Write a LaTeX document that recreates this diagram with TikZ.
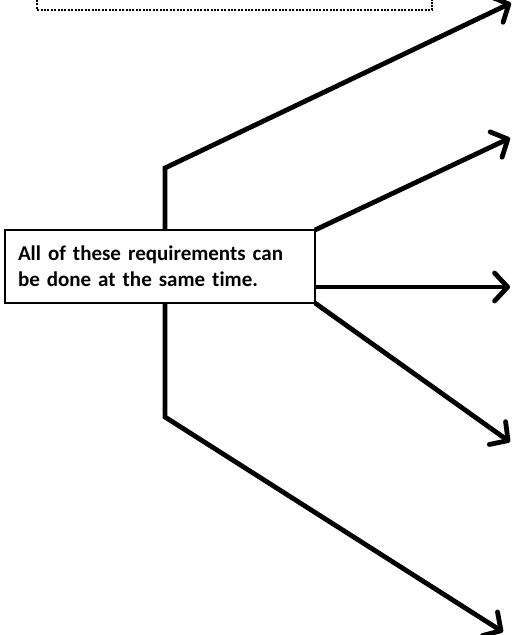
\documentclass[tikz,border=0pt]{standalone}
\usepackage{fontspec}
\setmainfont{Carlito}[Ligatures=NoCommon]
\usetikzlibrary{arrows.meta}
\begin{document}
\begin{tikzpicture}[x=1pt,y=-1pt,
  conn/.style={line width=4.8pt,-{Straight Barb[length=13pt,width=28pt,round]}},
  notebox/.style={draw,line width=2pt,fill=white,minimum height=73pt,
    text width=284pt,inner xsep=13pt,inner ysep=0pt,align=left,outer sep=0pt,
    font=\bfseries\fontsize{21pt}{26pt}\selectfont},
  dotbox/.style={line width=2pt,dash pattern=on 2pt off 1.4pt}]
\useasboundingbox (0,0) rectangle (514,635);
\draw[dotbox] (37,0) -- (37,10) -- (432,10) -- (432,0);
\coordinate (c1) at (165,168);
\coordinate (c5) at (165,417);
\coordinate (t1) at (511,3);
\coordinate (t2) at (510,138);
\coordinate (t3) at (510,287);
\coordinate (t4) at (510,442);
\coordinate (t5) at (503,632);
\node[notebox] (box) at (160,266.5) {All of these requirements can\\be done at the same time.};
\draw[conn] (c1 |- box.north) -- (c1) -- (t1);
\draw[conn] (box.north east) -- (t2);
\draw[conn] (box.east |- t3) -- (t3);
\draw[conn] (box.south east) -- (t4);
\draw[conn] (c5 |- box.south) -- (c5) -- (t5);
\end{tikzpicture}
\end{document}
